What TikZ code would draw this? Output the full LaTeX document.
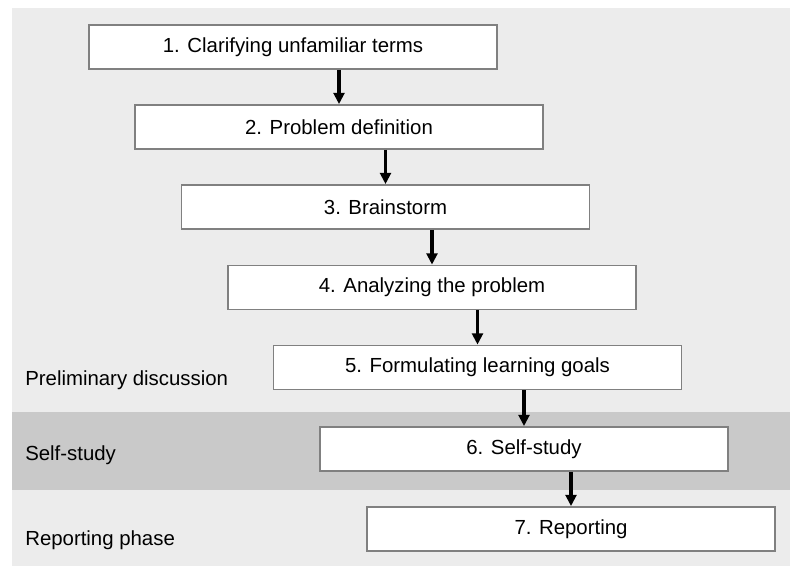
\documentclass[tikz,border=0pt]{standalone}
\usepackage{fontspec}
\setmainfont{Liberation Sans}
\usetikzlibrary{arrows.meta}
\definecolor{bglight}{HTML}{ECECEC}
\definecolor{bgdark}{HTML}{C9C9C9}
\definecolor{boxline}{HTML}{808080}
\tikzset{
  stepbox/.style={draw=boxline,line width=1.3pt,fill=white,minimum width=10.2cm,minimum height=1.1cm,inner sep=0pt},
  phase/.style={anchor=base west,inner sep=0pt},
  flow/.style={line width=2.2pt,-{Triangle[length=0.28cm,width=0.27cm]}}
}
\begin{document}
\begin{tikzpicture}[x=0.025cm,y=-0.025cm,font=\fontsize{14.5}{17}\selectfont]
    \useasboundingbox (0,0) rectangle (795,567);
    % phases
    \fill[bglight] (12,8) rectangle (790,566);
    \fill[bgdark] (12,412) rectangle (790,490);

    \node (pre) at (25,385) [phase] {Preliminary discussion};
    \node (self) at (25,460) [phase] {Self-study};
    \node (rep) at (25,545) [phase] {Reporting phase};

    % steps
    \node (s1) at (293,47) [stepbox] {1. Clarifying unfamiliar terms};
    \node (s2) at (339,127) [stepbox] {2. Problem definition};
    \node (s3) at (385.5,207) [stepbox] {3. Brainstorm};
    \node (s4) at (432,287.5) [stepbox] {4. Analyzing the problem};
    \node (s5) at (477.5,367.5) [stepbox] {5. Formulating learning goals};
    \node (s6) at (524,449) [stepbox] {6. Self-study};
    \node (s7) at (571,529) [stepbox] {7. Reporting};

    \draw[flow] (s1.south -| s2.north) -- (s2.north);
    \draw[flow] (s2.south -| s3.north) -- (s3.north);
    \draw[flow] (s3.south -| s4.north) -- (s4.north);
    \draw[flow] (s4.south -| s5.north) -- (s5.north);
    \draw[flow] (s5.south -| s6.north) -- (s6.north);
    \draw[flow] (s6.south -| s7.north) -- (s7.north);
\end{tikzpicture}
\end{document}
